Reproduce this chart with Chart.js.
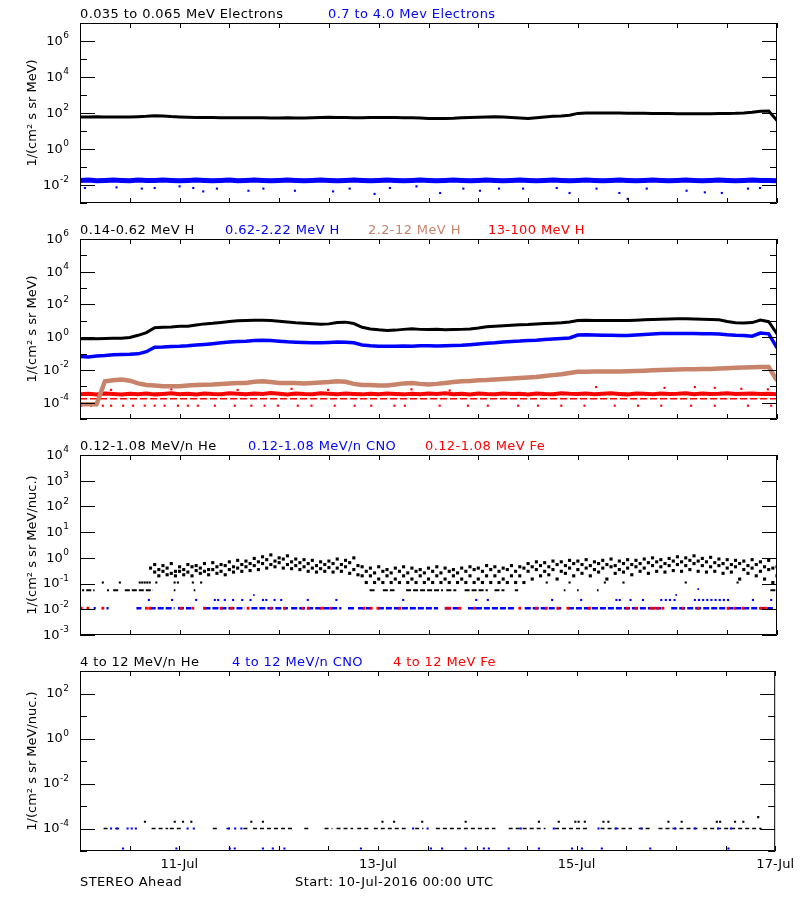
<!DOCTYPE html>
<html>
<head>
<meta charset="utf-8">
<title>STEREO Ahead particle fluxes</title>
<script src="https://cdn.jsdelivr.net/npm/chart.js@4.4.1/dist/chart.umd.min.js"></script>
<style>
  html, body { margin: 0; padding: 0; background: #fff; }
  #page { position: relative; width: 800px; height: 900px; overflow: hidden;
          font-family: "DejaVu Sans", sans-serif; font-size: 13px; color: #000; }
  #page canvas { position: absolute; left: 0; }
  .lbl { position: absolute; white-space: nowrap; line-height: 13px; letter-spacing: 0.4px; }
</style>
</head>
<body>
<div id="page">
  <canvas id="p1" width="800" height="205" style="top:3px"></canvas>
  <canvas id="p2" width="800" height="205" style="top:219px"></canvas>
  <canvas id="p3" width="800" height="205" style="top:435px"></canvas>
  <canvas id="p4" width="800" height="230" style="top:651px"></canvas>
</div>
<script>
// time grid, hours after 10-Jul-2016 00:00 UTC
const tEven = [0,2,4,6,8,10,12,14,16,18,
  20,22,24,26,28,30,32,34,36,38,
  40,42,44,46,48,50,52,54,56,58,
  60,62,64,66,68,70,72,74,76,78,
  80,82,84,86,88,90,92,94,96,98,
  100,102,104,106,108,110,112,114,116,118,
  120,122,124,126,128,130,132,134,136,138,
  140,142,144,146,148,150,152,154,156,158,
  160,162,164,166,168];
const tOdd = [1,3,5,7,9,11,13,15,17,19,
  21,23,25,27,29,31,33,35,37,39,
  41,43,45,47,49,51,53,55,57,59,
  61,63,65,67,69,71,73,75,77,79,
  81,83,85,87,89,91,93,95,97,99,
  101,103,105,107,109,111,113,115,117,119,
  121,123,125,127,129,131,133,135,137,139,
  141,143,145,147,149,151,153,155,157,159,
  161,163,165,167];
const tickHours = [0,12,24,36,48,60,72,84,96,108,120,132,144,156,168];
const dayTickHours = [24,72,120,168];
const dayTickLabels = ['11-Jul','13-Jul','15-Jul','17-Jul'];

// panel 1 - electrons
const p1Names = ['0.035 to 0.065 MeV Electrons', '0.7 to 4.0 Mev Electrons'];
const elecLow = [60,60,61,60,59,60,60,62,65,70,
  68,63,60,58,57,56,56,55,55,54,
  54,55,54,53,53,54,53,53,54,56,
  58,57,56,55,55,56,57,57,56,55,
  54,52,50,49,50,51,54,56,58,60,
  62,60,57,53,50,55,60,65,68,75,
  95,100,100,100,99,100,98,97,96,95,
  94,93,92,91,90,90,92,93,95,96,
  100,110,125,130,38];
const elecHigh = [0.018,0.019,0.017,0.018,0.019,0.018,0.017,0.019,0.018,0.018,
  0.019,0.018,0.017,0.018,0.019,0.018,0.017,0.018,0.019,0.017,
  0.018,0.019,0.018,0.017,0.018,0.019,0.018,0.017,0.018,0.019,
  0.018,0.017,0.018,0.019,0.018,0.017,0.018,0.019,0.018,0.017,
  0.018,0.019,0.018,0.017,0.018,0.019,0.018,0.017,0.018,0.019,
  0.018,0.017,0.018,0.019,0.018,0.017,0.018,0.019,0.018,0.017,
  0.018,0.019,0.018,0.017,0.018,0.019,0.018,0.017,0.018,0.019,
  0.018,0.017,0.018,0.019,0.018,0.017,0.018,0.019,0.018,0.017,
  0.018,0.019,0.018,0.018,0.017];
const elecHighOutHours = [1.2,8.8,14.9,18,24,27.3,29.7,33,40.6,44.2,51.8,61,65,71,74.7,81.1,
  86.8,92.4,96.4,101,106.8,114.9,118,124.5,130,132,136.6,146.2,150.6,154.7,161,163.9];
const elecHighOutValues = [0.0068,0.0074,0.0063,0.0068,0.0084,0.0068,0.0044,0.0063,0.0048,0.0063,0.0048,0.0044,0.0063,0.0032,0.0068,0.0084,
  0.0036,0.0063,0.0048,0.0063,0.0063,0.0068,0.0036,0.0063,0.0036,0.0017,0.0063,0.0048,0.0039,0.0036,0.0063,0.0068];

// panel 2 - protons
const p2Names = ['0.14-0.62 MeV H', '0.62-2.22 MeV H', '2.2-12 MeV H', '13-100 MeV H'];
const protonA = [0.8,0.8,0.8,0.82,0.85,0.85,0.95,1.3,1.9,3.8,
  4.0,4.2,4.6,4.6,5.5,6.5,7.0,8.0,9.0,10,
  10.5,11,11,10.5,9.5,8.5,7.6,7.2,6.6,6.2,
  6.5,8.0,8.3,6.8,4.0,3.2,2.8,2.6,2.7,3.0,
  3.3,3.0,2.9,3.0,2.8,2.9,3.0,3.2,3.6,4.3,
  4.7,5.0,5.4,5.8,6.0,6.4,6.8,7.2,7.6,8.5,
  10.5,10.8,10.5,10.3,10.6,10.5,10.6,11,11.5,12,
  12.5,13,13.5,13.2,13,12.5,12.2,11.5,9,7.6,
  7.4,7.8,11,8.8,1.6];
const protonB = [0.065,0.062,0.07,0.075,0.085,0.088,0.09,0.096,0.13,0.24,
  0.25,0.27,0.28,0.3,0.33,0.36,0.4,0.45,0.5,0.55,
  0.57,0.62,0.65,0.62,0.57,0.52,0.49,0.47,0.45,0.45,
  0.47,0.5,0.49,0.45,0.33,0.3,0.28,0.28,0.28,0.29,
  0.28,0.3,0.3,0.29,0.3,0.31,0.32,0.35,0.38,0.42,
  0.45,0.5,0.55,0.58,0.63,0.66,0.72,0.78,0.83,0.9,
  1.35,1.4,1.35,1.3,1.3,1.28,1.27,1.35,1.45,1.55,
  1.65,1.7,1.7,1.7,1.65,1.6,1.6,1.55,1.4,1.3,
  1.25,1.15,1.8,1.6,0.22];
const protonC = [8e-5,8e-5,8e-5,2.0e-3,2.3e-3,2.6e-3,2.2e-3,1.5e-3,1.2e-3,1.1e-3,
  1.0e-3,1.0e-3,1.0e-3,1.1e-3,1.2e-3,1.25e-3,1.3e-3,1.4e-3,1.5e-3,1.6e-3,
  1.6e-3,1.9e-3,2.0e-3,1.8e-3,1.6e-3,1.6e-3,1.6e-3,1.5e-3,1.6e-3,1.7e-3,
  1.8e-3,2.0e-3,1.9e-3,1.4e-3,1.2e-3,1.2e-3,1.1e-3,1.1e-3,1.3e-3,1.5e-3,
  1.6e-3,1.4e-3,1.3e-3,1.4e-3,1.6e-3,1.8e-3,2.0e-3,2.1e-3,2.3e-3,2.4e-3,
  2.6e-3,2.8e-3,3.0e-3,3.2e-3,3.4e-3,3.7e-3,4.2e-3,4.8e-3,5.5e-3,6.5e-3,
  7.6e-3,7.8e-3,7.9e-3,8.0e-3,8.0e-3,8.1e-3,8.3e-3,8.6e-3,9.0e-3,9.5e-3,
  1.0e-2,1.02e-2,1.05e-2,1.08e-2,1.1e-2,1.12e-2,1.15e-2,1.2e-2,1.28e-2,1.35e-2,
  1.4e-2,1.45e-2,1.5e-2,1.5e-2,2.2e-3];
const protonD = [3.3e-4,3.5e-4,3.2e-4,3.6e-4,3.4e-4,3.1e-4,3.5e-4,3.3e-4,3.6e-4,3.2e-4,
  3.4e-4,3.7e-4,3.3e-4,3.5e-4,3.2e-4,3.6e-4,3.4e-4,3.3e-4,3.8e-4,3.5e-4,
  3.3e-4,3.6e-4,3.4e-4,3.9e-4,3.5e-4,3.2e-4,3.6e-4,3.4e-4,3.3e-4,3.7e-4,
  3.5e-4,3.3e-4,3.6e-4,3.4e-4,3.2e-4,3.5e-4,3.3e-4,3.6e-4,3.4e-4,3.2e-4,
  3.5e-4,3.3e-4,3.6e-4,3.4e-4,3.7e-4,3.3e-4,3.5e-4,3.2e-4,3.6e-4,3.4e-4,
  3.3e-4,3.6e-4,3.4e-4,3.5e-4,3.2e-4,3.6e-4,3.4e-4,3.3e-4,3.7e-4,3.5e-4,
  3.4e-4,3.6e-4,3.3e-4,3.5e-4,3.7e-4,3.4e-4,3.2e-4,3.6e-4,3.5e-4,3.3e-4,
  3.6e-4,3.4e-4,3.5e-4,3.8e-4,3.3e-4,3.6e-4,3.4e-4,3.5e-4,3.7e-4,3.4e-4,
  3.5e-4,3.6e-4,3.4e-4,3.5e-4,3.3e-4];
const protonDRowLevel = 1.7e-4;
const protonDRowRuns = [[0, 168]];
const protonDLowLevel = 6.5e-5;
const protonDLowHours = [0.3,2.7,5.5,7.5,10.4,12.8,15.6,18,20.4,23.6,26,28.4,32.5,37.3,41.3,44.5,47.7,52.5,55.8,
  61.4,66.2,70.2,75.8,78.3,86.7,93.5,98.3,105.6,110.4,116,121.6,128.9,134.5,140.1,147.3,153,161,166.6];
const protonDHighHours = [7.5,22,38,51,59.8,79.9,89.1,124.4,140.9,148.2,153,159.4,165.8];
const protonDHighValues = [6e-4,6.5e-4,6e-4,7e-4,6e-4,6.5e-4,5.5e-4,9e-4,8e-4,9e-4,8e-4,7e-4,6.5e-4];

// panel 3 - low energy ions (He cloud read as four rows of dots)
const p3Names = ['0.12-1.08 MeV/n He', '0.12-1.08 MeV/n CNO', '0.12-1.08 MeV Fe'];
const heLowA = [null,null,null,null,null,null,null,null,null,0.55,
  0.5,0.6,0.45,0.55,0.5,0.6,0.65,0.55,0.7,0.8,
  0.75,0.95,1.1,1.3,1.0,1.2,0.9,0.85,0.8,0.7,
  0.75,0.9,0.8,1.0,0.45,0.4,0.45,0.35,0.4,0.45,
  0.4,0.35,0.4,0.45,0.4,0.35,0.4,0.45,0.4,0.5,
  0.45,0.4,0.5,0.45,0.6,0.7,0.65,0.75,0.7,0.8,
  0.75,0.85,0.7,0.8,0.9,0.75,0.85,0.8,0.9,1.0,
  0.85,0.95,1.1,1.0,1.2,0.95,1.05,0.9,0.85,0.8,
  0.75,0.85,0.7,0.8,0.45];
const heLowB = [null,null,null,null,null,null,null,null,0.4,0.35,
  0.4,0.3,0.35,0.45,0.4,0.35,0.45,0.5,0.45,0.55,
  0.6,0.7,0.85,0.75,0.9,0.7,0.65,0.6,0.5,0.55,
  0.6,0.55,0.65,0.5,0.3,0.26,0.3,0.26,0.3,0.26,
  0.3,0.26,0.3,0.26,0.3,0.26,0.3,0.35,0.3,0.35,
  0.3,0.35,0.3,0.4,0.45,0.5,0.45,0.55,0.5,0.6,
  0.55,0.5,0.6,0.55,0.5,0.6,0.55,0.6,0.65,0.7,
  0.6,0.75,0.7,0.8,0.75,0.7,0.65,0.6,0.55,0.6,
  0.5,0.55,0.45,0.4];
const heLowC = [null,null,null,null,null,null,null,null,null,0.28,
  0.3,0.25,0.3,0.28,0.32,0.3,0.35,0.3,0.35,0.4,
  0.45,0.5,0.6,0.55,0.65,0.55,0.5,0.45,0.4,0.38,
  0.42,0.4,0.45,0.35,0.2,0.2,0.15,0.2,0.15,0.2,
  0.15,0.2,0.15,0.2,0.15,0.2,0.15,0.2,0.15,0.2,
  0.2,0.15,0.2,0.2,0.3,0.35,0.3,0.35,0.3,0.4,
  0.35,0.4,0.35,0.4,0.45,0.35,0.4,0.45,0.4,0.5,
  0.45,0.5,0.55,0.5,0.6,0.5,0.45,0.5,0.4,0.45,
  0.35,0.4,0.3,0.35,0.2];
const heLowD = [null,null,null,null,null,null,null,null,null,0.2,
  0.22,0.2,0.22,0.2,0.25,0.22,0.25,0.22,0.28,0.3,
  0.32,0.35,0.4,0.45,0.4,0.38,0.35,0.3,0.28,0.3,
  0.28,0.3,0.25,0.22,0.11,0.11,0.11,0.11,0.11,0.11,
  0.11,0.11,0.11,0.11,0.11,0.11,0.11,0.11,0.11,0.11,
  0.11,0.11,0.11,0.11,0.15,0.2,0.22,0.15,0.25,0.2,
  0.25,0.2,0.28,0.15,0.25,0.28,0.22,0.3,0.25,0.3,
  0.28,0.32,0.3,0.35,0.3,0.28,0.3,0.25,0.28,0.15,
  0.25,0.2,0.15,0.11];
const heLowOneCount = 0.055;
const heLowOneRuns = [[0.5,1],[1.5,3.5],[6.5,7],[8,9.6],[10.8,17.6],[22.6,23],[27.4,27.8],[69.8,71],[73,75.8],
  [78.6,87.5],[88.3,90.7],[92.7,98.3],[99.9,102.3],[104.8,105.6],[116.6,117],[119.8,120.2],[124.6,125],[166.4,168]];
const heLowTwoCount = 0.11;
const heLowTwoHours = [5.5,9.6,14.4,15,15.6,16.2,16.8,18.4,22.8,23.6,27.2,29.2,112.5,118,126.5,131,146,158.5];
const cnoLowOneCount = 0.011;
const cnoLowOneRuns = [[3.3,3.8],[6.4,6.9],[13.6,14.8],[16.8,22.8],[23.6,26.8],[30,39.7],[41.3,50.1],[50.9,63],
  [64.6,66.2],[67,70.2],[71.8,86.3],[87.9,91.9],[93.5,104.8],[107.2,116],[117.6,140.1],[142.5,167]];
const cnoLowTwoCount = 0.023;
const cnoLowTwoHours = [16.6,22.2,28,32.5,33.3,34.9,36.9,39.1,41.1,44.1,44.9,46.9,48.5,54.9,61.8,77.9,95.5,98.3,
  113.8,120.8,129.3,130.1,132.7,135.7,140.1,141.2,142.2,143.3,148.2,149.2,150.2,151.2,152.2,153.2,154.2,155.2,156.2,162.2,166.6];
const cnoLowExtraHours = [41.9,143.7,149];
const cnoLowExtraValues = [0.036,0.036,0.061];
const feLowOneCount = 0.011;
const feLowHours = [0.3,1.9,5.5,16,16.8,24.4,27.2,30,34,36.5,40.5,46,49.3,53.7,55,58.2,60.4,68.5,70.2,71.8,77.1,
  88.3,89.1,91.5,95.1,106,110,112.4,115.2,117.6,122.8,131.9,134,137.7,138.5,139.3,140.5,145.3,149,156.2,157.8,159.8,164.2,165.2];

// panel 4 - high energy ions
const p4Names = ['4 to 12 MeV/n He', '4 to 12 MeV/n CNO', '4 to 12 MeV Fe'];
const heHighOneCount = 1e-4;
const heHighOneRuns = [[5.7,7],[8.5,9.7],[17.3,21.3],[21.7,24.5],[32.1,33.7],[35.4,36.2],[39.5,40.6],[41.8,51.4],
  [54.2,55.8],[59.1,61],[62,66],[67,70],[71,78.7],[81,83],[86,100.4],[103.6,112.5],[114.8,122.9],[125.8,133.4],
  [135,138.1],[139.8,149.4],[150.6,164.7]];
const heHighUpHours = [15.7,22.9,24.9,26.9,41.4,44.2,73.1,75.9,82.7,93.2,110.9,115.7,119.7,120.5,122,126.5,127.7,
  142.2,145.4,153.9,154.7,158.3,160.3,163.9];
const heHighUpValues = [2e-4,2e-4,2e-4,2e-4,2e-4,2e-4,2e-4,2e-4,2e-4,2e-4,2e-4,2e-4,2e-4,2e-4,2e-4,2e-4,2e-4,
  2e-4,2e-4,2e-4,2e-4,2e-4,2e-4,3.2e-4];
const cnoHighOneCount = 1e-4;
const cnoHighOneHours = [7.5,9,11.5,12.5,13.5,26,27.5,36,37.5,39,80.5,84,106.5,114.5,125.3,129.5,135.7,143.8,148.6,154.2,157.3];
const cnoHighLowCount = 1.3e-5;
const cnoHighLowHours = [10.4,23.3,36.2,37.4,44.2,46.6,49.4,67.9,84.8,87.5,93.2,97.6,98.8,103.6,110.9,118.9,121.3,126.1,137.8,156.7];

const BLACK = '#000000', BLUE = '#0000ff', TAN = '#c8836b', RED = '#ff0000';

function pts(xs, ys) { return xs.map((x, i) => ({ x: x, y: ys[i] })); }
function atLevel(xs, v) { return xs.map(x => ({ x: x, y: v })); }
function runs(pairs, v) {
  return pairs.flatMap(p => [{ x: p[0], y: v }, { x: p[1], y: v }, { x: p[1], y: null }]);
}

function line(name, data, color, width, dash) {
  return { label: name, data: data, showLine: true, borderColor: color, borderWidth: width,
    borderDash: dash || [], pointRadius: 0, spanGaps: false, fill: false };
}
function dots(name, data, color, r) {
  return { label: name, data: data, showLine: false, pointStyle: 'rect', pointRadius: r,
    pointBackgroundColor: color, pointBorderColor: color, pointBorderWidth: 0 };
}

// inward IDL-style ticks, frame and 10^n labels
const frameTicks = {
  id: 'frameTicks',
  afterDatasetsDraw(chart, args, opts) {
    const { ctx, chartArea: a } = chart;
    const xs = chart.scales.x, ys = chart.scales.y;
    ctx.save();
    ctx.strokeStyle = '#000';
    ctx.lineWidth = 1;
    ctx.beginPath();
    ctx.rect(a.left + 0.5, a.top + 0.5, a.right - a.left - 1, a.bottom - a.top - 1);
    xs.ticks.forEach(t => {
      const px = Math.round(xs.getPixelForValue(t.value)) + 0.5;
      ctx.moveTo(px, a.top); ctx.lineTo(px, a.top + 5);
      ctx.moveTo(px, a.bottom); ctx.lineTo(px, a.bottom - 5);
    });
    ys.ticks.forEach(t => {
      const e = Math.round(Math.log10(t.value));
      const len = opts.major.includes(e) ? 15 : 7;
      const py = Math.round(ys.getPixelForValue(t.value)) + 0.5;
      ctx.moveTo(a.left, py); ctx.lineTo(a.left + len, py);
      ctx.moveTo(a.right, py); ctx.lineTo(a.right - len, py);
    });
    ctx.stroke();

    ctx.fillStyle = '#000';
    ctx.textAlign = 'right';
    ctx.textBaseline = 'middle';
    ys.ticks.forEach(t => {
      const e = Math.round(Math.log10(t.value));
      if (!opts.major.includes(e)) return;
      const py = ys.getPixelForValue(t.value);
      const sup = String(e);
      const xr = a.left - 11;
      ctx.font = '9px "DejaVu Sans"';
      const w = ctx.measureText(sup).width;
      ctx.fillText(sup, xr, py - 5);
      ctx.font = '13px "DejaVu Sans"';
      ctx.fillText('10', xr - w - 0.5, py + 0.5);
    });
    ctx.restore();
  }
};

function xAxis(showLabels) {
  return {
    type: 'linear', min: 0, max: 168,
    afterBuildTicks: s => { s.ticks = tickHours.map(v => ({ value: v })); },
    afterFit: s => { s.height = showLabels ? 30 : 0; },
    grid: { display: false, drawTicks: false },
    border: { display: false },
    ticks: {
      display: showLabels, autoSkip: false, maxRotation: 0, padding: 6, color: '#000',
      font: { family: 'DejaVu Sans', size: 13 },
      callback: v => { const i = dayTickHours.indexOf(v); return i >= 0 ? dayTickLabels[i] : ''; }
    }
  };
}

function yAxis(lo, hi, title) {
  return {
    type: 'logarithmic', min: Math.pow(10, lo), max: Math.pow(10, hi),
    afterBuildTicks: s => {
      const t = [];
      for (let e = lo; e <= hi; e++) t.push({ value: Math.pow(10, e) });
      s.ticks = t;
    },
    afterFit: s => { s.width = 80; },
    grid: { display: false, drawTicks: false },
    border: { display: false },
    ticks: { display: false },
    title: { display: true, text: title, color: '#000',
      font: { family: 'DejaVu Sans', size: 13 }, padding: { top: 25, bottom: 0 } }
  };
}

function makeChart(id, datasets, yRange, majors, yTitle, bottomLabels) {
  return new Chart(document.getElementById(id), {
    type: 'scatter',
    data: { datasets: datasets },
    options: {
      responsive: false, animation: false, events: [],
      devicePixelRatio: 1,
      layout: { padding: { top: 20, right: 23, bottom: bottomLabels ? 0 : 5, left: 0 } },
      scales: { x: xAxis(bottomLabels), y: yAxis(yRange[0], yRange[1], yTitle) },
      plugins: { legend: { display: false }, tooltip: { enabled: false }, frameTicks: { major: majors } }
    },
    plugins: [frameTicks]
  });
}

function addTitle(names, colors, lefts, top) {
  const page = document.getElementById('page');
  names.forEach((n, i) => {
    const s = document.createElement('div');
    s.className = 'lbl';
    s.textContent = n;
    s.style.left = lefts[i] + 'px';
    s.style.top = top + 'px';
    s.style.color = colors[i];
    page.appendChild(s);
  });
}

Chart.defaults.font.family = '"DejaVu Sans", sans-serif';

const unitMeV = '1/(cm\u00B2 s sr MeV)';
const unitNuc = '1/(cm\u00B2 s sr MeV/nuc.)';

makeChart('p1', [
  line(p1Names[0], pts(tEven, elecLow), BLACK, 3),
  line(p1Names[1], pts(tEven, elecHigh), BLUE, 5),
  dots(p1Names[1], pts(elecHighOutHours, elecHighOutValues), BLUE, 1.5)
], [-3, 7], [-2, 0, 2, 4, 6], unitMeV, false);

makeChart('p2', [
  line(p2Names[0], pts(tEven, protonA), BLACK, 3),
  line(p2Names[1], pts(tEven, protonB), BLUE, 3.5),
  line(p2Names[2], pts(tEven, protonC), TAN, 4.5),
  line(p2Names[3], pts(tEven, protonD), RED, 4),
  line(p2Names[3], runs(protonDRowRuns, protonDRowLevel), RED, 1.5, [7, 3]),
  dots(p2Names[3], atLevel(protonDLowHours, protonDLowLevel), RED, 1.5),
  dots(p2Names[3], pts(protonDHighHours, protonDHighValues), RED, 1.5)
], [-5, 6], [-4, -2, 0, 2, 4, 6], unitMeV, false);

makeChart('p3', [
  dots(p3Names[2], atLevel(feLowHours, feLowOneCount), RED, 2),
  line(p3Names[1], runs(cnoLowOneRuns, cnoLowOneCount), BLUE, 2.5, [6, 2]),
  dots(p3Names[1], atLevel(cnoLowTwoHours, cnoLowTwoCount), BLUE, 1.5),
  dots(p3Names[1], pts(cnoLowExtraHours, cnoLowExtraValues), BLUE, 1.2),
  dots(p3Names[0], pts(tEven, heLowA), BLACK, 2.2),
  dots(p3Names[0], pts(tOdd, heLowB), BLACK, 2.2),
  dots(p3Names[0], pts(tEven, heLowC), BLACK, 2.2),
  dots(p3Names[0], pts(tOdd, heLowD), BLACK, 2.2),
  dots(p3Names[0], atLevel(heLowTwoHours, heLowTwoCount), BLACK, 1.5),
  line(p3Names[0], runs(heLowOneRuns, heLowOneCount), BLACK, 2, [5, 2])
], [-3, 4], [-3, -2, -1, 0, 1, 2, 3, 4], unitNuc, false);

makeChart('p4', [
  dots(p4Names[1], atLevel(cnoHighOneHours, cnoHighOneCount), BLUE, 1.5),
  dots(p4Names[1], atLevel(cnoHighLowHours, cnoHighLowCount), BLUE, 1.5),
  line(p4Names[0], runs(heHighOneRuns, heHighOneCount), BLACK, 1.5, [4, 3]),
  dots(p4Names[0], pts(heHighUpHours, heHighUpValues), BLACK, 1.5)
], [-5, 3], [-4, -2, 0, 2], unitNuc, true);

addTitle(p1Names, [BLACK, BLUE], [80, 328], 7);
addTitle(p2Names, [BLACK, BLUE, TAN, RED], [80, 225, 368, 488], 223);
addTitle(p3Names, [BLACK, BLUE, RED], [80, 248, 425], 439);
addTitle(p4Names, [BLACK, BLUE, RED], [80, 232, 393], 655);
addTitle(['STEREO Ahead', 'Start: 10-Jul-2016 00:00 UTC'], [BLACK, BLACK], [80, 295], 875);
</script>
</body>
</html>
